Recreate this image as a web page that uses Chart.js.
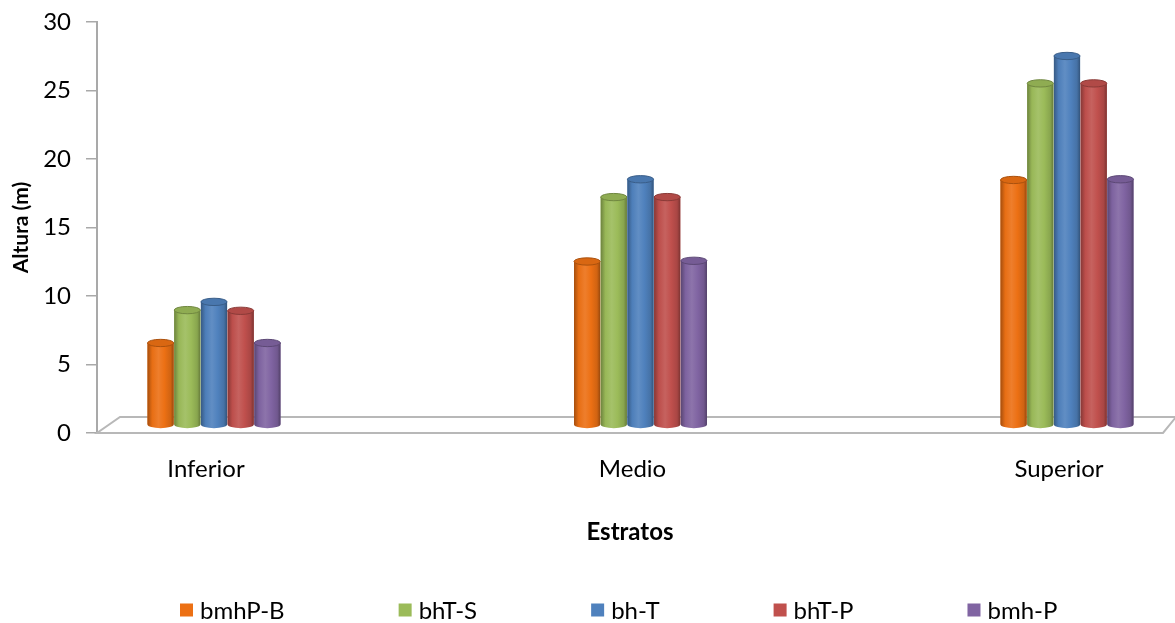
<!DOCTYPE html>
<html>
<head>
<meta charset="utf-8">
<title>Altura por estrato</title>
<script src="https://cdn.jsdelivr.net/npm/chart.js@4.4.1/dist/chart.umd.min.js"></script>
<style>
  html, body { margin: 0; padding: 0; background: #fff; }
  #wrap { width: 1175px; height: 623px; position: relative; }
</style>
</head>
<body>
<div id="wrap"><canvas id="chart"></canvas></div>
<script>
// ─── Data ─────────────────────────────────────────────────────────────────────

const estratos = ["Inferior", "Medio", "Superior"];
const series   = ["bmhP-B", "bhT-S", "bh-T", "bhT-P", "bmh-P"];
const colores  = ["#EC7014", "#9BBB59", "#4F81BD", "#C0504D", "#8064A2"];

const bmhPB = [5.95, 11.9, 17.85];
const bhTS  = [8.35, 16.6, 24.9];
const bhT   = [8.95, 17.9, 26.9];
const bhTP  = [8.3, 16.6, 24.9];
const bmhP  = [5.95, 11.95, 17.9];

const yTicks = [0, 5, 10, 15, 20, 25, 30];

const FONT = "Lato, 'Open Sans', sans-serif";
const AXIS_GRAY = "#a9a9a9";

// ─── Helpers ──────────────────────────────────────────────────────────────────

function shade(hex, amt) {
  const n = parseInt(hex.slice(1), 16);
  let r = (n >> 16) & 255, g = (n >> 8) & 255, b = n & 255;
  const f = (c) => amt >= 0 ? Math.round(c + (255 - c) * amt) : Math.round(c * (1 + amt));
  return `rgb(${f(r)},${f(g)},${f(b)})`;
}

const buildDataset = (label, values, i) => ({
  label,
  data: values.map((v, k) => ({ x: k, y: v })),
  backgroundColor: colores[i],
  borderWidth: 0,
  yAxisID: "yBar",
  categoryPercentage: 0.313,
  barPercentage: 0.98,
});

// ─── Plugins ──────────────────────────────────────────────────────────────────

// 3D floor under the columns
const floorPlugin = {
  id: "floor",
  beforeDatasetsDraw(chart) {
    const { ctx, chartArea: { left, right, bottom } } = chart;
    const dy = 16;
    ctx.save();
    ctx.strokeStyle = "#b8b8b8";
    ctx.lineWidth = 2;
    ctx.beginPath();
    ctx.moveTo(left, bottom);
    ctx.lineTo(right, bottom);
    ctx.lineTo(right + 13, bottom - dy);
    ctx.lineTo(left + 23, bottom - dy);
    ctx.closePath();
    ctx.stroke();
    ctx.restore();
  },
};

// Cylinder shading over each bar element
const cylinderPlugin = {
  id: "cylinders",
  afterDatasetsDraw(chart) {
    const { ctx } = chart;
    chart.data.datasets.forEach((ds, di) => {
      const color = colores[di];
      chart.getDatasetMeta(di).data.forEach((el) => {
        const { x, y, base, width } = el.getProps(["x", "y", "base", "width"], true);
        const l = x - width / 2, r = x + width / 2, ry = width * 0.14;

        const grad = ctx.createLinearGradient(l, 0, r, 0);
        grad.addColorStop(0, shade(color, -0.3));
        grad.addColorStop(0.18, shade(color, -0.02));
        grad.addColorStop(0.42, shade(color, 0.1));
        grad.addColorStop(0.65, color);
        grad.addColorStop(0.88, shade(color, -0.12));
        grad.addColorStop(1, shade(color, -0.35));

        ctx.save();
        ctx.beginPath();
        ctx.moveTo(l, y);
        ctx.lineTo(l, base);
        ctx.ellipse(x, base, width / 2, ry, 0, Math.PI, 0, true);
        ctx.lineTo(r, y);
        ctx.closePath();
        ctx.fillStyle = grad;
        ctx.fill();

        ctx.beginPath();
        ctx.ellipse(x, y, width / 2, ry, 0, 0, Math.PI * 2);
        ctx.fillStyle = shade(color, -0.08);
        ctx.fill();
        ctx.lineWidth = 1;
        ctx.strokeStyle = shade(color, -0.28);
        ctx.stroke();
        ctx.restore();
      });
    });
  },
};

// Legend row along the bottom
const legendPlugin = {
  id: "legendRow",
  afterDraw(chart) {
    const { ctx } = chart;
    const box = 13, gapText = 7, gapItem = 114, cy = 610, startX = 180;
    ctx.save();
    ctx.font = `24px ${FONT}`;
    ctx.textBaseline = "middle";
    let x = startX;
    chart.data.datasets.forEach((d, i) => {
      ctx.fillStyle = colores[i];
      ctx.fillRect(x, cy - box / 2, box, box);
      ctx.fillStyle = "#000";
      ctx.fillText(d.label, x + box + gapText, cy + 1);
      x += box + gapText + ctx.measureText(d.label).width + gapItem;
    });
    ctx.restore();
  },
};

// ─── Chart ────────────────────────────────────────────────────────────────────

const datasets = [bmhPB, bhTS, bhT, bhTP, bmhP].map((v, i) => buildDataset(series[i], v, i));

new Chart(document.getElementById("chart"), {
  type: "bar",
  data: { datasets },
  options: {
    responsive: true,
    maintainAspectRatio: false,
    animation: false,
    layout: { padding: { top: 22, right: 12, bottom: 72, left: 0 } },
    plugins: {
      legend: { display: false },
      tooltip: { enabled: false },
    },
    scales: {
      x: {
        type: "linear",
        offset: false,
        min: -0.2743,
        max: 2.2251,
        afterFit: (s) => { s.height = 118; },
        grid: { display: false, drawTicks: false },
        border: { display: false },
        ticks: {
          stepSize: 1,
          includeBounds: false,
          autoSkip: false,
          maxRotation: 0,
          padding: 22,
          labelOffset: -8,
          color: "#000",
          font: { family: FONT, size: 24 },
          callback: (v) => estratos[v] ?? "",
        },
        title: {
          display: true,
          text: "Estratos",
          color: "#000",
          font: { family: FONT, size: 24, weight: "bold" },
          padding: { top: 0, bottom: 4 },
        },
      },
      y: {
        min: 0,
        max: 30,
        afterFit: (s) => {
          s.width = 97;
          // keep the plot top pinned to the layout padding
          s.paddingTop = 0;
          s.paddingBottom = 0;
        },
        afterBuildTicks: (s) => { s.ticks = yTicks.map((v) => ({ value: v })); },
        grid: {
          drawOnChartArea: false,
          drawTicks: true,
          tickLength: 11,
          color: AXIS_GRAY,
          lineWidth: 1.5,
        },
        border: { display: true, color: AXIS_GRAY, width: 2 },
        ticks: {
          padding: 15,
          color: "#000",
          font: { family: FONT, size: 24 },
        },
        title: {
          display: true,
          text: "Altura (m)",
          color: "#000",
          font: { family: FONT, size: 21, weight: "bold" },
          padding: { top: 9, bottom: 0 },
        },
      },
      // bars stand mid-depth on the floor, slightly behind the front axis
      yBar: {
        display: false,
        min: -0.62,
        max: 29.38,
      },
    },
  },
  plugins: [floorPlugin, cylinderPlugin, legendPlugin],
});
</script>
</body>
</html>
